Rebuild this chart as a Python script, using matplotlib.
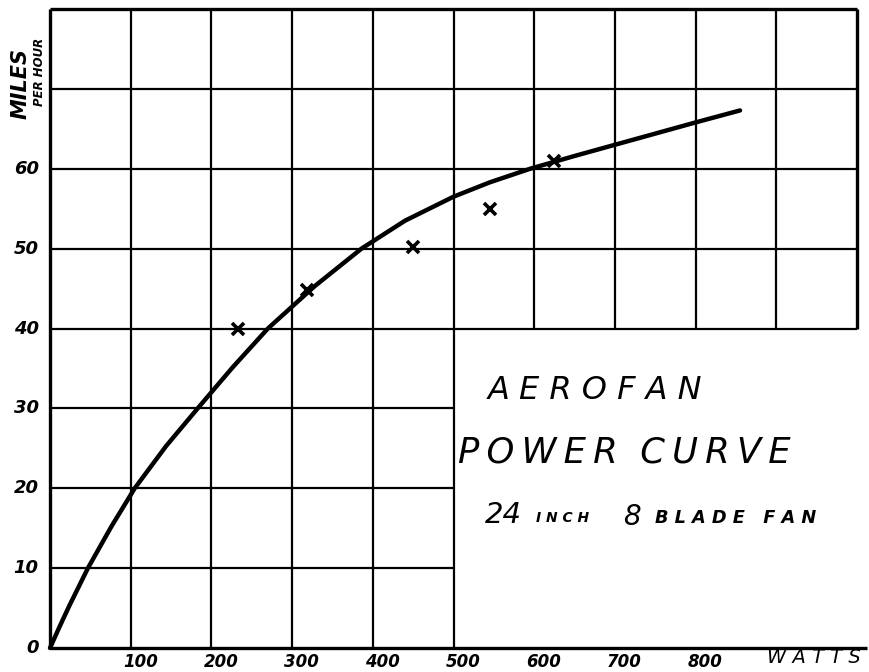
import matplotlib
matplotlib.use("Agg")
import matplotlib.pyplot as plt

# ---- data ----
x_ticks = [100, 200, 300, 400, 500, 600, 700, 800]
x_tick_labels = ["100", "200", "300", "400", "500", "600", "700", "800"]
y_ticks = [0, 10, 20, 30, 40, 50, 60]
y_tick_labels = ["0", "10", "20", "30", "40", "50", "60"]

curve_watts = [0, 12, 24, 47, 76, 105, 144, 183, 226, 270, 328, 386, 440, 500, 545,
               595, 650, 700, 750, 800, 855]
curve_mph = [0, 2.7, 5.3, 10, 15.2, 20, 25.3, 30, 35.1, 40, 45.3, 50, 53.5, 56.5, 58.3,
             60, 61.6, 63.0, 64.4, 65.8, 67.3]

test_watts = [233, 318, 450, 545, 624]
test_mph = [40, 44.8, 50.2, 55, 61]

X_MAX, Y_MAX = 1000, 80

fig = plt.figure(figsize=(8.69, 6.72), dpi=100)
ax = fig.add_axes([50/869, 24/672, 807/869, 639/672])
ax.set_xlim(0, X_MAX)
ax.set_ylim(0, Y_MAX)
ax.axis("off")

gk = dict(color="black", lw=1.6, solid_capstyle="butt", clip_on=False)
# vertical grid lines
for xv in x_ticks + [900]:
    if xv <= 500:
        ax.plot([xv, xv], [0, Y_MAX], **gk)
    else:
        ax.plot([xv, xv], [40, Y_MAX], **gk)
# horizontal grid lines
for yv in [10, 20, 30]:
    ax.plot([0, 500], [yv, yv], **gk)
for yv in [40, 50, 60, 70]:
    ax.plot([0, X_MAX], [yv, yv], **gk)

ak = dict(color="black", lw=2.4, solid_capstyle="butt", clip_on=False)
ax.plot([0, X_MAX], [Y_MAX, Y_MAX], **ak)       # top
ax.plot([X_MAX, X_MAX], [40, Y_MAX], **ak)      # right (upper part)
ax.plot([0, 0], [0, Y_MAX], **ak)               # left
ax.plot([0, 1012], [0, 0], **ak)                # bottom

# curve and test points
ax.plot(curve_watts, curve_mph, color="black", lw=3.2, solid_capstyle="round",
        solid_joinstyle="round", clip_on=False)
ax.plot(test_watts, test_mph, ls="none", marker="x", ms=8, mew=2.6, color="black")

tk = dict(fontsize=13, fontweight="bold", style="italic", color="black",
          family="DejaVu Sans")
for yv, lab in zip(y_ticks, y_tick_labels):
    ax.text(-14, yv, lab, ha="right", va="center", **tk)
for xv, lab in zip(x_ticks, x_tick_labels):
    ax.text(xv + 12, -1.8, lab, ha="center", va="center", fontsize=12,
            fontweight="bold", style="italic", color="black", family="DejaVu Sans")
ax.text(888, -1.2, "W A T T S", ha="left", va="center", fontsize=14, style="italic",
        color="black", family="DejaVu Sans")

# y-axis title
ax.text(-36, 70.7, "MILES", rotation=90, ha="center", va="center",
        fontsize=15, fontweight="bold", style="italic", family="DejaVu Sans")
ax.text(-13, 72.1, "PER HOUR", rotation=90, ha="center", va="center",
        fontsize=8.5, fontweight="bold", style="italic", family="DejaVu Sans")

# title block
ttl = dict(color="black", style="italic", family="DejaVu Sans", va="center", ha="left")
ax.text(543, 32.3, "A E R O F A N", fontsize=23, **ttl)
ax.text(506, 24.5, "P\u2009O\u2009W\u2009E\u2009R  C\u2009U\u2009R\u2009V\u2009E", fontsize=25.5, **ttl)
ax.text(539, 16.6, "24", fontsize=21, **ttl)
ax.text(602, 16.3, "I N C H", fontsize=10, fontweight="bold", **ttl)
ax.text(710, 16.4, "8", fontsize=20, **ttl)
ax.text(750, 16.3, "B L A D E   F A N", fontsize=12.8, fontweight="bold", **ttl)

fig.savefig("out.png", dpi=100, facecolor="white")
